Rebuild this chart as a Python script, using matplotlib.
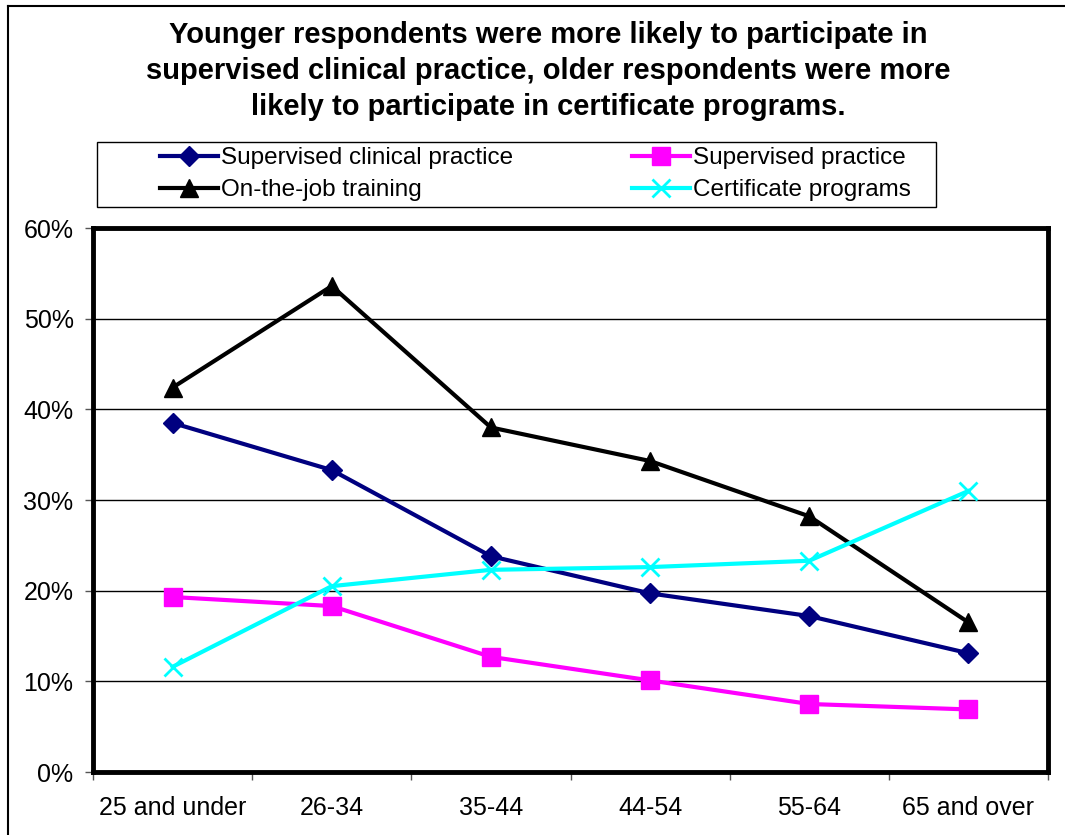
import matplotlib
matplotlib.use("Agg")
import matplotlib.pyplot as plt
from matplotlib.lines import Line2D
from matplotlib.patches import Rectangle
import numpy as np

plt.rcParams['font.family'] = ['Liberation Sans', 'DejaVu Sans']

categories = ["25 and under", "26-34", "35-44", "44-54", "55-64", "65 and over"]
supervised_clinical = [38.5, 33.3, 23.8, 19.7, 17.2, 13.1]
supervised_practice = [19.3, 18.3, 12.7, 10.1, 7.5, 6.9]
on_the_job = [42.4, 53.6, 38.0, 34.3, 28.2, 16.5]
certificate = [11.6, 20.5, 22.3, 22.6, 23.3, 31.0]

W, H = 1065, 835
fig = plt.figure(figsize=(W / 100, H / 100), dpi=100)
ax = fig.add_axes([93 / W, 1 - 772 / H, (1048 - 93) / W, (772 - 228) / H])

x = np.arange(len(categories)) + 0.5
series = [
    ("Supervised clinical practice", supervised_clinical, "#000080", "D", 10),
    ("Supervised practice", supervised_practice, "#FF00FF", "s", 13),
    ("On-the-job training", on_the_job, "#000000", "^", 13),
    ("Certificate programs", certificate, "#00FFFF", "x", 13),
]
handles = {}
for name, vals, col, mk, ms in series:
    (h,) = ax.plot(x, vals, color=col, lw=3, marker=mk, markersize=ms,
                   markeredgewidth=2 if mk == "x" else 1, markeredgecolor=col,
                   markerfacecolor=col, zorder=3, clip_on=False)
    handles[name] = h

ax.set_xlim(0, 6)
ax.set_ylim(0, 60)
ax.set_yticks(np.arange(0, 61, 10))
ax.set_yticklabels([f"{v}%" for v in range(0, 61, 10)])
ax.set_xticks(np.arange(0, 7))
ax.set_xticklabels([])
ax.set_xticks(x, minor=True)
ax.set_xticklabels(categories, minor=True)
ax.tick_params(axis="x", which="minor", length=0, pad=17, labelsize=18)
ax.tick_params(axis="x", which="major", length=6, width=1, color="#555555")
ax.tick_params(axis="y", length=6, width=1, color="#555555", labelsize=18, pad=8)
ax.yaxis.grid(True, color="black", lw=1)
ax.set_axisbelow(True)
for s in ax.spines.values():
    s.set_linewidth(3.5)
    s.set_color("black")

fig.text(548 / W, 1 - 71 / H,
         "Younger respondents were more likely to participate in\n"
         "supervised clinical practice, older respondents were more\n"
         "likely to participate in certificate programs.",
         ha="center", va="center", fontsize=21, fontweight="bold", linespacing=1.36)

fig.add_artist(Rectangle((97 / W, 1 - 207 / H), (936 - 97) / W, 65 / H,
                         transform=fig.transFigure, facecolor="white",
                         edgecolor="black", lw=1))
order = ["Supervised clinical practice", "On-the-job training",
         "Supervised practice", "Certificate programs"]
leg = fig.legend([handles[n] for n in order], order, ncol=2,
                 loc="upper left",
                 bbox_to_anchor=(160 / W, 1 - 147 / H),
                 fontsize=17.5, frameon=False, handlelength=2.4,
                 handletextpad=0.1, borderpad=0, labelspacing=0.42,
                 borderaxespad=0, columnspacing=4.9)

fig.add_artist(Line2D([8 / W, 8 / W], [0, 1 - 6 / H], transform=fig.transFigure, color="black", lw=1.5))
fig.add_artist(Line2D([8 / W, 1], [1 - 6 / H, 1 - 6 / H], transform=fig.transFigure, color="black", lw=1.5))

fig.savefig("out.png", dpi=100)
